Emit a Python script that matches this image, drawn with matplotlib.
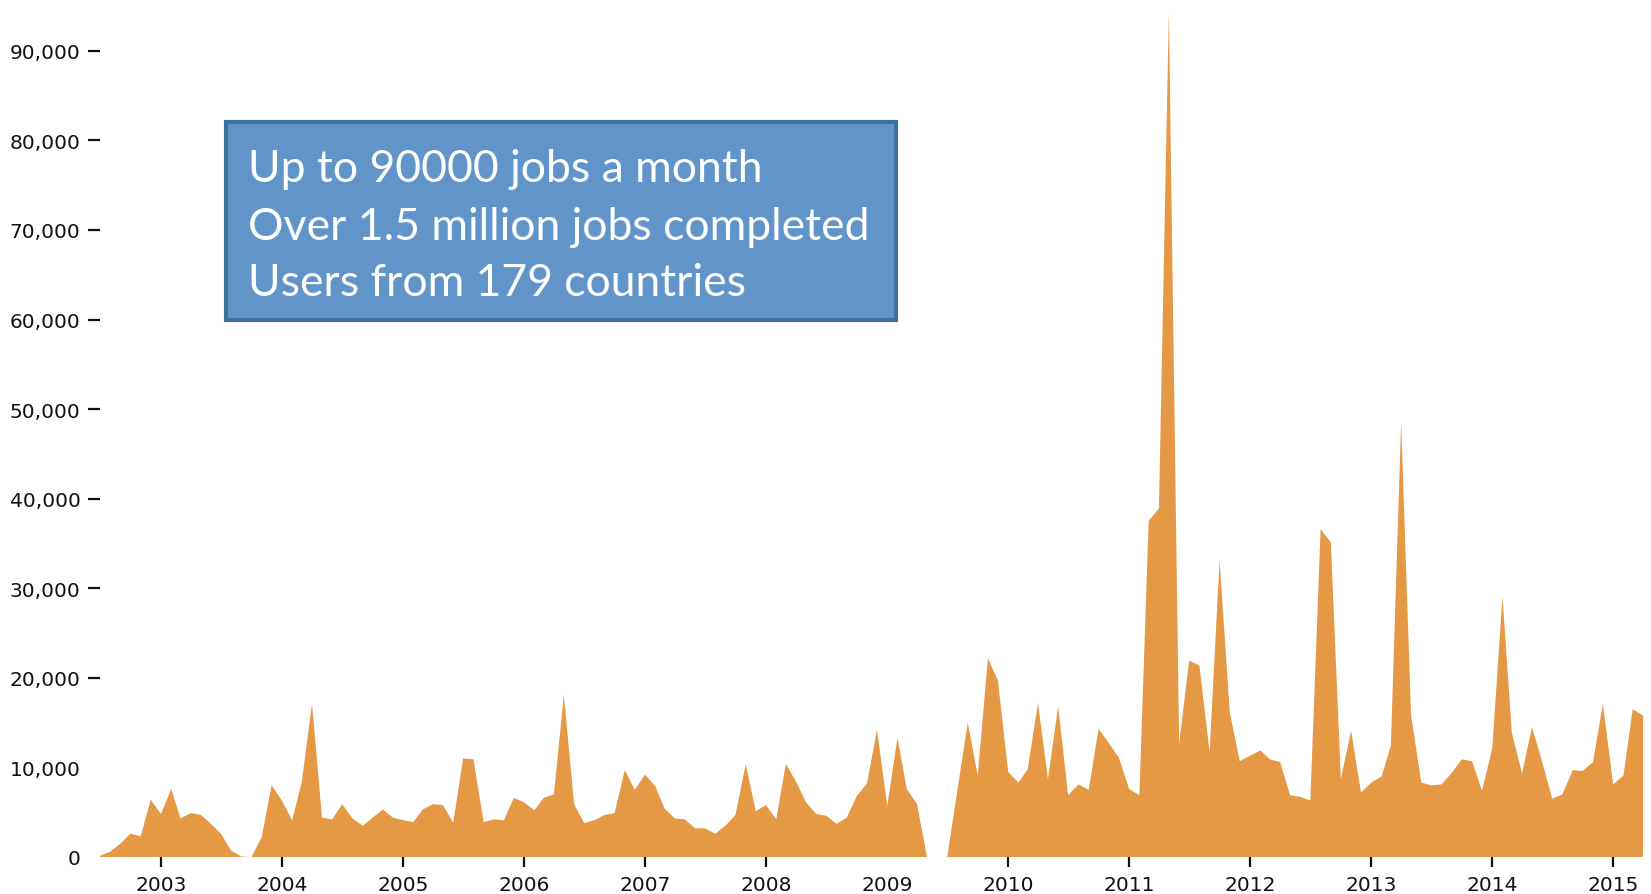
import numpy as np
import pandas as pd
import matplotlib
matplotlib.use('Agg')
import matplotlib.pyplot as plt
import matplotlib.dates as mdates
from matplotlib.patches import Rectangle

# monthly jobs, Jul 2002 .. Apr 2015 (nan = no data)
start_month = '2002-07-01'
jobs = [
    150, 600, 1500, 2600, 2300, 6400,                                   # 2002 H2
    4800, 7600, 4300, 4900, 4700, 3700, 2600, 700, 50, 0, 2200, 8000,    # 2003
    6300, 4100, 8400, 17100, 4400, 4200, 5900, 4300, 3500, 4400, 5300, 4400,   # 2004
    4100, 3900, 5300, 5900, 5800, 3800, 11000, 10900, 3900, 4200, 4100, 6600,  # 2005
    6100, 5200, 6600, 7000, 18100, 5900, 3800, 4100, 4700, 4900, 9700, 7500,   # 2006
    9200, 7900, 5400, 4300, 4200, 3200, 3200, 2600, 3500, 4700, 10400, 5100,   # 2007
    5800, 4200, 10400, 8400, 6100, 4800, 4600, 3700, 4400, 6800, 8200, 14200,  # 2008
    5700, 13300, 7600, 5900, 0, np.nan, 0, 7500, 15000, 9100, 22200, 19700,    # 2009
    9500, 8300, 9800, 17200, 8700, 16800, 6900, 8100, 7500, 14300, 12700, 11100,  # 2010
    7600, 6900, 37500, 38900, 94300, 12600, 21900, 21400, 11700, 33100, 16100, 10700,  # 2011
    11300, 11900, 10900, 10600, 6900, 6700, 6300, 36600, 35100, 8700, 14100, 7200,  # 2012
    8300, 9000, 12400, 48500, 15800, 8300, 8000, 8100, 9400, 10900, 10700, 7400,  # 2013
    12100, 29100, 13900, 9300, 14500, 10600, 6500, 7000, 9700, 9600, 10600, 17100,  # 2014
    8100, 9100, 16500, 15800,                                            # 2015
]
years = list(range(2003, 2016))
yticks = list(range(0, 90001, 10000))
info_lines = ['Up to 90000 jobs a month',
              'Over 1.5 million jobs completed',
              'Users from 179 countries']

jobs = np.array(jobs, dtype=float)
months = pd.date_range(start_month, periods=len(jobs), freq='MS')
have = ~np.isnan(jobs)

W, H = 1651, 895
fig = plt.figure(figsize=(W / 100, H / 100), dpi=100)
ax = fig.add_axes([100 / W, 1 - 858 / H, 1543 / W, (858 - 7) / H])

ax.fill_between(months, np.nan_to_num(jobs), 0, where=have,
                color='#E69945', lw=0, interpolate=False)

ax.set_xlim(months[0], months[-1])
ax.set_ylim(0, 95000)
for s in ax.spines.values():
    s.set_visible(False)

ax.set_yticks(yticks)
ax.set_yticklabels(['{:,}'.format(v) for v in yticks])
ax.set_xticks([pd.Timestamp(f'{y}-01-01') for y in years])
ax.xaxis.set_major_formatter(mdates.DateFormatter('%Y'))

ax.tick_params(axis='y', length=9, width=1.6, pad=5, labelsize=14.5,
               colors='#111111')
ax.tick_params(axis='x', length=7, width=1.6, pad=6, labelsize=14.5,
               colors='#111111')

# some tick marks are missing in the original
for t in ax.yaxis.get_major_ticks()[:2]:
    t.tick1line.set_visible(False)
ax.xaxis.get_major_ticks()[years.index(2009)].tick1line.set_visible(False)

# info box
x0, y0, x1, y1 = 226, 123, 896, 321
fig.patches.append(Rectangle((x0 / W, 1 - y1 / H), (x1 - x0) / W, (y1 - y0) / H,
                             transform=fig.transFigure, facecolor='#6195C9',
                             edgecolor='#41719C', lw=3, zorder=5))
for i, line in enumerate(info_lines):
    fig.text(248 / W, 1 - (170 + 57 * i) / H, line, color='white',
             fontsize=32, family='Lato', va='center', ha='left', zorder=6)

fig.savefig('out.png', dpi=100)
